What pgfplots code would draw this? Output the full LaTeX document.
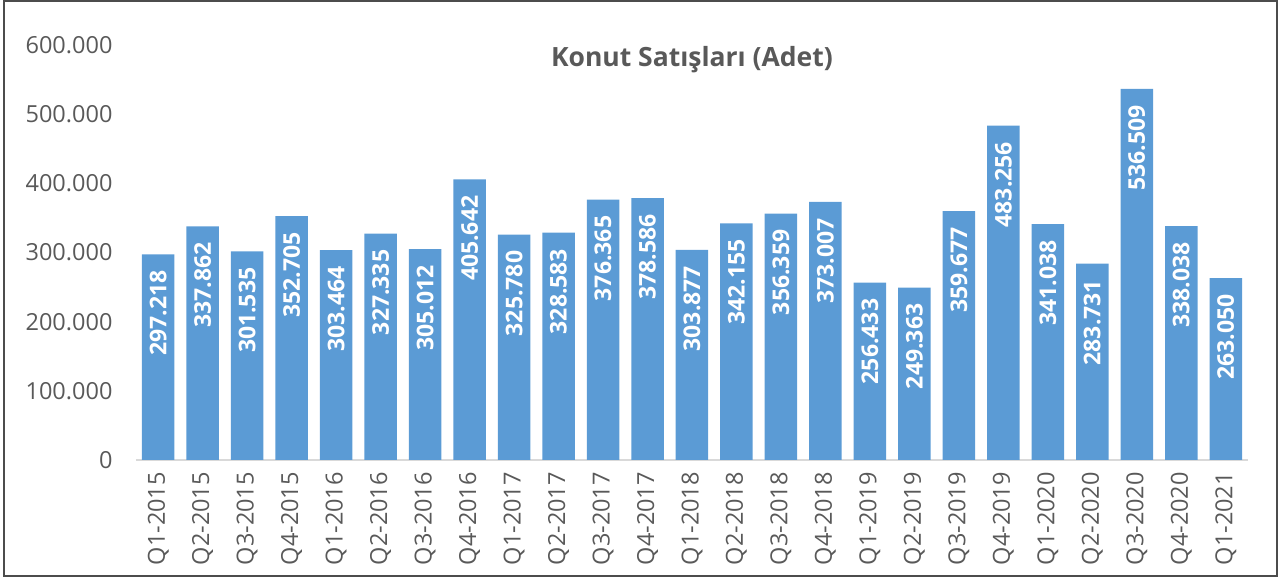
\documentclass[border=0pt]{standalone}
\usepackage{fontspec}
\setmainfont{Open Sans}
\usepackage{pgfplots}
\pgfplotsset{compat=1.18}

\definecolor{barblue}{HTML}{5B9BD5}
\definecolor{txtgray}{HTML}{595959}
\definecolor{axgray}{HTML}{D9D9D9}

\begin{document}
\begin{tikzpicture}
\useasboundingbox (-136pt,-117pt) rectangle (1147pt,460pt);
\draw[color=black!70, line width=1.5pt] (-132pt,-116pt) rectangle (1141pt,459pt);
\begin{axis}[
  at={(0,0)}, anchor=south west,
  scale only axis, width=1112pt, height=415pt,
  xmin=-0.5, xmax=24.5, ymin=0, ymax=600000,
  ybar, bar width=32.5pt, bar shift=0pt,
  axis lines*=left,
  y axis line style={draw=none},
  x axis line style={color=axgray, line width=2pt},
  major tick length=0pt,
  xtick=data,
  xticklabels={Q1-2015,Q2-2015,Q3-2015,Q4-2015,Q1-2016,Q2-2016,Q3-2016,Q4-2016,
    Q1-2017,Q2-2017,Q3-2017,Q4-2017,Q1-2018,Q2-2018,Q3-2018,Q4-2018,
    Q1-2019,Q2-2019,Q3-2019,Q4-2019,Q1-2020,Q2-2020,Q3-2020,Q4-2020,Q1-2021},
  xticklabel style={rotate=90, anchor=east, inner xsep=12pt, font=\fontsize{23.5}{27}\selectfont, color=txtgray},
  ytick={0,100000,200000,300000,400000,500000,600000},
  yticklabel style={font=\fontsize{23.5}{27}\selectfont, color=txtgray, xshift=-20pt},
  scaled y ticks=false,
  /pgf/number format/.cd, 1000 sep={.}, fixed, precision=0, assume math mode=true,
  /pgfplots/.cd,
  title={Konut Satışları (Adet)},
  title style={at={(0.5,1)}, anchor=north, yshift=-4pt, font=\bfseries\fontsize{26.5}{30}\selectfont, color=txtgray},
  nodes near coords,
  every node near coord/.append style={rotate=90, anchor=east, inner xsep=16pt,
    font=\bfseries\fontsize{23}{27}\selectfont, color=white},
]
\addplot[fill=barblue, draw=none] coordinates {
  (0,297218) (1,337862) (2,301535) (3,352705) (4,303464) (5,327335) (6,305012)
  (7,405642) (8,325780) (9,328583) (10,376365) (11,378586) (12,303877)
  (13,342155) (14,356359) (15,373007) (16,256433) (17,249363) (18,359677)
  (19,483256) (20,341038) (21,283731) (22,536509) (23,338038) (24,263050)
};
\end{axis}
\end{tikzpicture}
\end{document}
